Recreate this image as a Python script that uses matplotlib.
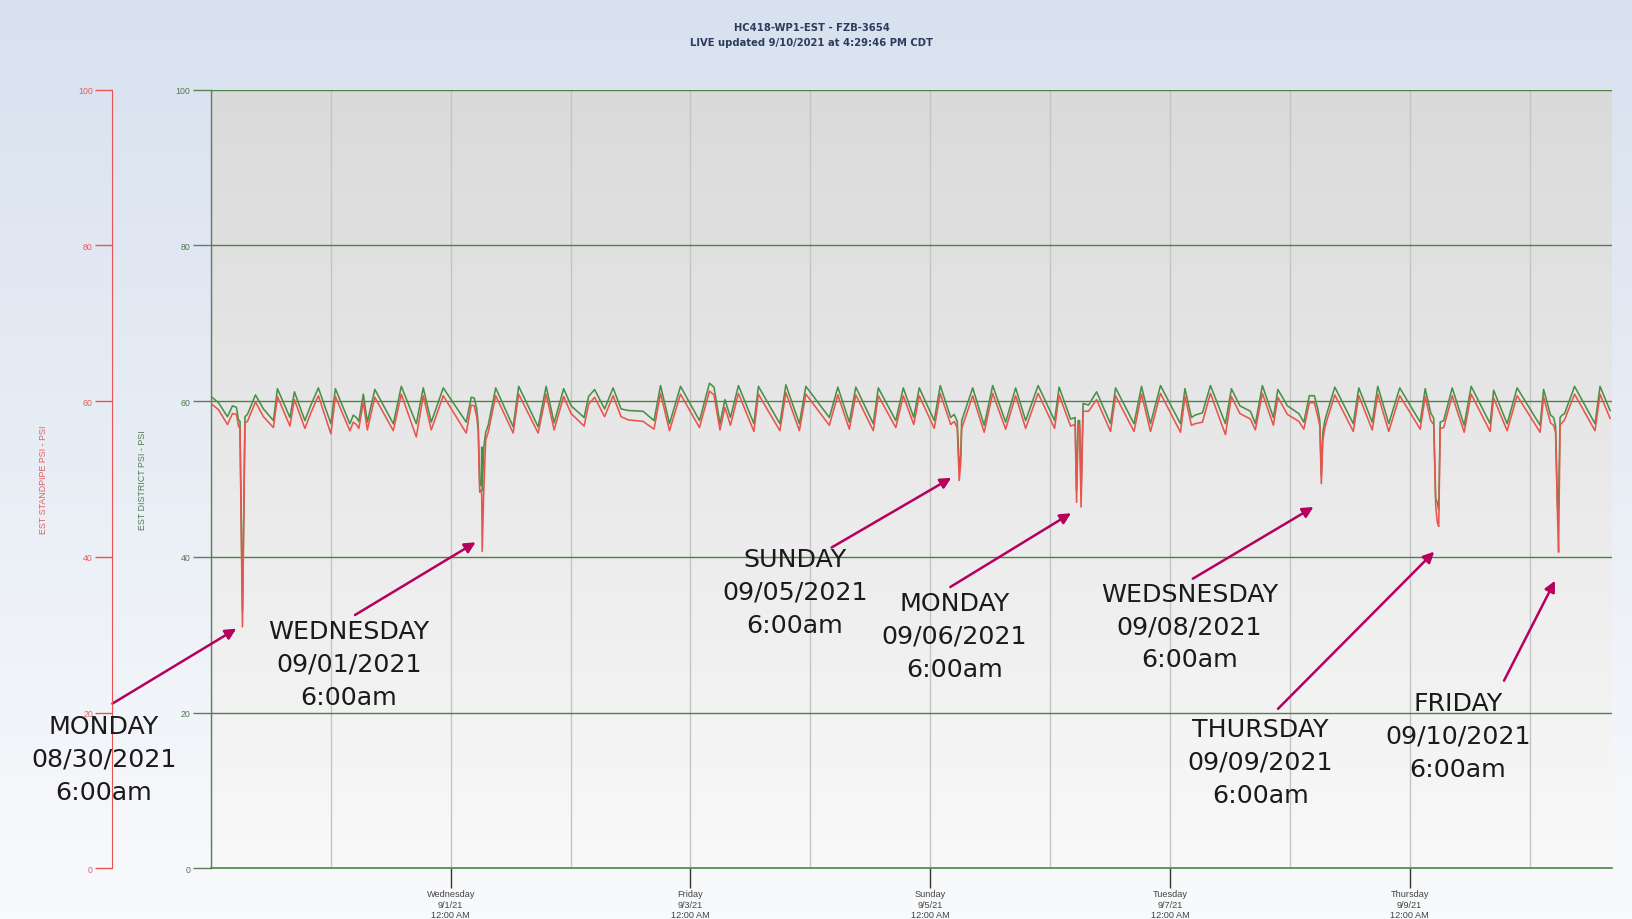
import numpy as np
import matplotlib
matplotlib.use("Agg")
import matplotlib.pyplot as plt
import matplotlib.dates as mdates
from matplotlib.ticker import FuncFormatter
import pandas as pd

# ---------------- data ----------------
title_lines = ["HC418-WP1-EST - FZB-3654", "LIVE updated 9/10/2021 at 4:29:46 PM CDT"]
start_time = "2021-08-30 00:00:00"
end_time = "2021-09-10 16:29:46"

# hours since 8/30/2021 12:00 AM
hours = [0.0, 1.5, 3.3, 4.3, 5.1, 5.5, 5.8, 6.3, 6.8, 7.3, 8.9, 10.5, 12.5, 13.3, 15.8, 16.7,
         18.8, 20.0, 21.5, 24.0, 24.9, 27.8, 28.5, 29.1, 29.6, 30.5, 31.3, 32.8, 36.5, 38.1,
         41.1, 42.5, 44.1, 46.5, 51.1, 52.1, 52.7, 53.2, 53.5, 53.8, 54.1, 54.2, 54.3, 54.6,
         55.0, 55.5, 57.0, 60.5, 61.6, 65.5, 67.1, 68.7, 70.6, 72.1, 74.7, 75.6, 76.8, 78.8,
         80.5, 82.1, 83.5, 86.5, 88.7, 90.0, 91.8, 94.0, 97.8, 99.8, 100.7, 101.9, 102.9,
         104.0, 105.6, 108.7, 109.6, 110.5, 113.9, 115.1, 117.8, 119.1, 123.8, 125.5, 127.8,
         129.1, 132.6, 133.6, 137.1, 138.6, 140.7, 141.8, 144.8, 146.0, 148.1, 148.8, 149.4,
         149.8, 150.1, 150.3, 152.5, 154.8, 156.5, 159.1, 161.1, 163.1, 165.6, 168.9, 169.8,
         172.1, 173.0, 173.3, 173.6, 173.9, 174.2, 174.6, 175.7, 177.3, 180.1, 181.1, 184.8,
         186.3, 188.1, 190.1, 194.1, 195.0, 196.3, 197.0, 198.5, 200.1, 203.1, 204.3, 206.0,
         208.1, 209.1, 210.5, 212.7, 213.6, 215.5, 217.8, 218.8, 219.9, 220.9, 221.6, 222.0,
         222.3, 222.6, 223.0, 223.3, 225.0, 228.7, 229.8, 232.5, 233.6, 235.8, 238.0, 242.1,
         243.1, 244.2, 244.8, 245.2, 245.5, 245.8, 246.1, 246.8, 248.5, 250.9, 252.3, 256.1,
         256.8, 259.5, 261.5, 266.1, 266.8, 268.2, 268.8, 269.2, 269.6, 269.8, 270.1, 270.5,
         271.0, 273.0, 277.1, 278.1, 280.1]

district_psi = [60.6, 59.8, 58.0, 59.4, 59.2, 57.6, 57.4, 33.0, 58.0, 58.3, 60.8, 59.0, 57.5, 61.6, 57.9, 61.2,
                57.5, 59.5, 61.7, 57.1, 61.6, 57.1, 58.2, 57.9, 57.4, 60.9, 57.3, 61.5, 57.1, 61.9,
                57.1, 61.7, 57.3, 61.7, 57.3, 60.5, 60.4, 59.0, 57.0, 49.1, 49.3, 54.1, 48.5, 54.0,
                56.0, 56.9, 61.7, 56.7, 61.9, 56.7, 61.9, 57.2, 61.6, 59.4, 57.9, 60.6, 61.5, 59.0,
                61.7, 59.0, 58.8, 58.7, 57.5, 62.0, 57.1, 61.9, 57.5, 62.3, 61.8, 57.1, 60.2,
                57.9, 62.0, 57.1, 61.9, 60.9, 57.1, 62.1, 57.1, 61.9, 57.9, 61.8, 57.3,
                61.8, 57.1, 61.7, 57.5, 61.7, 57.9, 61.7, 57.5, 62.0, 57.9, 58.3, 57.4,
                51.5, 53.0, 57.5, 61.7, 56.9, 62.0, 57.3, 61.7, 57.5, 62.0, 57.5, 61.8,
                57.7, 57.9, 48.5, 57.5, 57.5, 48.0, 59.7, 59.5, 61.2, 57.1, 61.7, 57.1,
                61.9, 57.1, 62.0, 57.1, 61.6, 57.9, 58.2, 58.5, 62.0, 57.1, 61.6, 59.4,
                58.7, 57.1, 62.0, 57.9, 61.5, 59.4, 58.4, 57.3, 60.7, 60.7, 59.0, 57.5,
                50.5, 56.0, 57.5, 58.2, 61.8, 57.1, 61.7, 57.3, 61.9, 57.1, 61.7, 57.3,
                61.6, 58.5, 57.8, 47.5, 47.0, 46.0, 57.3, 57.5, 61.7, 56.9, 61.9, 57.1,
                61.4, 57.1, 61.7, 56.9, 61.5, 58.2, 57.9, 56.8, 46.1, 46.5, 57.9, 58.2,
                58.4, 61.9, 57.1, 61.9, 58.8]

standpipe_psi = [59.7, 58.9, 57.0, 58.4, 58.3, 56.8, 56.5, 31.0, 57.2, 57.4, 59.9, 58.0, 56.6, 60.6, 56.8, 60.2,
                 56.5, 58.5, 60.7, 55.8, 60.6, 56.2, 57.3, 57.0, 56.5, 59.9, 56.3, 60.5, 56.2, 60.9,
                 55.4, 60.7, 56.3, 60.7, 55.9, 59.5, 59.4, 58.0, 56.2, 48.3, 48.6, 48.0, 40.7, 48.3,
                 55.0, 56.0, 60.7, 55.9, 60.9, 55.9, 60.9, 56.3, 60.6, 58.4, 56.8, 59.6, 60.5, 58.0,
                 60.7, 58.0, 57.6, 57.4, 56.4, 61.0, 56.2, 60.9, 56.6, 61.3, 60.8, 56.3, 59.2,
                 56.9, 61.0, 56.1, 60.9, 59.9, 56.2, 61.1, 56.2, 60.9, 56.9, 60.8, 56.4,
                 60.8, 56.2, 60.7, 56.6, 60.7, 57.0, 60.7, 56.5, 61.0, 57.0, 57.4, 56.6,
                 49.8, 52.0, 56.5, 60.7, 56.0, 61.0, 56.4, 60.7, 56.5, 61.0, 56.5, 60.8,
                 56.8, 57.0, 47.0, 57.0, 57.0, 46.4, 58.7, 58.7, 60.2, 56.1, 60.7, 56.1,
                 60.9, 56.1, 61.0, 56.0, 60.6, 56.9, 57.1, 57.3, 61.0, 55.7, 60.6, 58.4,
                 57.7, 56.3, 61.0, 56.9, 60.5, 58.3, 57.4, 56.4, 59.8, 59.8, 58.0, 56.8,
                 49.4, 55.0, 56.5, 57.3, 60.8, 56.1, 60.7, 56.3, 60.9, 56.1, 60.7, 56.4,
                 60.6, 57.5, 57.0, 46.5, 44.5, 43.9, 56.5, 56.6, 60.7, 56.0, 60.9, 56.1,
                 60.4, 56.2, 60.7, 56.0, 60.5, 57.2, 56.9, 56.0, 45.0, 40.6, 57.0, 57.2,
                 57.6, 60.9, 56.2, 60.9, 57.8]

y_ticks = [0, 20, 40, 60, 80, 100]
standpipe_label = "EST STANDPIPE PSI - PSI"
district_label = "EST DISTRICT PSI - PSI"

annotation_texts = [
    "MONDAY\n08/30/2021\n6:00am",
    "WEDNESDAY\n09/01/2021\n6:00am",
    "SUNDAY\n09/05/2021\n6:00am",
    "MONDAY\n09/06/2021\n6:00am",
    "WEDSNESDAY\n09/08/2021\n6:00am",
    "THURSDAY\n09/09/2021\n6:00am",
    "FRIDAY\n09/10/2021\n6:00am",
]

# ---------------- styling ----------------
W, H = 1632, 920
DPI = 100
RED = "#e8554e"
GREEN = "#4b8f47"
GRID_GREEN = "#4f8045"
AXIS_GREEN = "#5c7f5c"
ARROW = "#b5005e"

fig = plt.figure(figsize=(W / DPI, H / DPI), dpi=DPI)

# figure background gradient
bg = fig.add_axes([0, 0, 1, 1], zorder=-10)
top_c = np.array([216, 225, 239]) / 255.0
bot_c = np.array([249, 250, 252]) / 255.0
g = np.linspace(0, 1, 256)[:, None]
grad = (top_c[None, :] * (1 - g) + bot_c[None, :] * g)[:, None, :]
bg.imshow(grad, aspect="auto", extent=[0, 1, 0, 1], origin="upper")
bg.set_axis_off()

def px(x, y):
    return x / W, 1 - y / H

left, right, top, bottom = 211, 1612, 90.7, 869.3
ax = fig.add_axes([left / W, 1 - bottom / H, (right - left) / W, (bottom - top) / H])
ax.patch.set_alpha(0)

t0 = pd.Timestamp(start_time)
t1 = pd.Timestamp(end_time)
times = t0 + pd.to_timedelta(hours, unit="h")
xt = mdates.date2num(times.to_pydatetime())
x0, x1 = mdates.date2num(t0.to_pydatetime()), mdates.date2num(t1.to_pydatetime())

# plot-area gradient
ptop = np.array([218, 218, 218]) / 255.0
pbot = np.array([249, 249, 249]) / 255.0
pgrad = (ptop[None, :] * (1 - g) + pbot[None, :] * g)[:, None, :]
ax.imshow(pgrad, aspect="auto", extent=[x0, x1, 0, 100], origin="upper", zorder=0)

ax.plot(xt, district_psi, color=GREEN, lw=1.15, zorder=3)
ax.plot(xt, standpipe_psi, color=RED, lw=1.15, zorder=4)

ax.set_xlim(x0, x1)
ax.set_ylim(0, 100)

# y axis (district, green)
ax.set_yticks(y_ticks)
ax.tick_params(axis="y", which="major", length=13, width=1, color=AXIS_GREEN,
               labelcolor="#4f7a4f", labelsize=6.3, pad=2, direction="out")
for lab in ax.get_yticklabels():
    lab.set_family("Liberation Sans")
for yv in y_ticks[1:]:
    ax.axhline(yv, color=GRID_GREEN, lw=1.0, zorder=2)

# x axis
ax.xaxis.set_major_locator(mdates.DayLocator(bymonthday=[1, 3, 5, 7, 9]))
ax.xaxis.set_minor_locator(mdates.DayLocator())

def fmt(v, pos):
    d = mdates.num2date(v)
    return f"{d:%A}\n{d.month}/{d.day}/{d:%y}\n12:00 AM"

ax.xaxis.set_major_formatter(FuncFormatter(fmt))
ax.tick_params(axis="x", which="major", length=14.5, width=1, color="#333333",
               labelcolor="#444444", labelsize=6.6, pad=0.5)
ax.tick_params(axis="x", which="minor", length=0)
for lab in ax.get_xticklabels():
    lab.set_family("Liberation Sans")
    lab.set_linespacing(1.2)
ax.grid(which="both", axis="x", color="#c4c4c4", lw=1.0, zorder=1)
ax.set_axisbelow(True)

for s in ["top", "right"]:
    ax.spines[s].set_visible(False)
ax.spines["left"].set_color(AXIS_GREEN)
ax.spines["bottom"].set_color(GRID_GREEN)
ax.spines["left"].set_linewidth(1.0)
ax.spines["bottom"].set_linewidth(1.2)

# standpipe (red) axis
ax2 = ax.twinx()
ax2.set_ylim(0, 100)
ax2.yaxis.tick_left()
ax2.set_yticks(y_ticks)
ax2.spines["left"].set_position(("axes", (112.3 - left) / (right - left)))
for s in ["top", "right", "bottom"]:
    ax2.spines[s].set_visible(False)
ax2.spines["left"].set_color(RED)
ax2.tick_params(axis="y", length=12, width=1, color=RED, labelcolor="#e06060",
                labelsize=6.3, pad=2)
for lab in ax2.get_yticklabels():
    lab.set_family("Liberation Sans")
ax2.patch.set_visible(False)

# axis titles
fig.text(*px(43.3, 480), standpipe_label, rotation=90, ha="center", va="center",
         color="#e06060", fontsize=6.4, family="Liberation Sans")
fig.text(*px(142.3, 480), district_label, rotation=90, ha="center", va="center",
         color="#4f7a4f", fontsize=6.4, family="Liberation Sans")

# title
fig.text(*px(812, 28.3), title_lines[0], ha="center", va="center", color="#2d3b5c",
         fontsize=7.2, fontweight="bold", family="DejaVu Sans")
fig.text(*px(812, 43.3), title_lines[1], ha="center", va="center", color="#2d3b5c",
         fontsize=7.2, fontweight="bold", family="DejaVu Sans")

# annotations
text_centers = [(104, 760), (348.7, 665), (795, 593), (954.4, 637), (1189.6, 627.6),
                (1260.4, 763), (1458, 737)]
arrows = [((112.4, 704.6), (236.3, 629.7)),
          ((355, 616), (475.6, 543.3)),
          ((831.6, 548.5), (951.3, 478.8)),
          ((950.3, 588), (1071, 514.2)),
          ((1192.8, 579.7), (1313.5, 508)),
          ((1278, 709.8), (1434.2, 552.7)),
          ((1504, 681.7), (1555, 581.8))]

for txt, (cx, cy), (tail, tip) in zip(annotation_texts, text_centers, arrows):
    fig.text(*px(cx, cy), txt, ha="center", va="center", fontsize=18.2,
             color="#1a1a1a", family="DejaVu Sans", linespacing=1.46, zorder=20)
    ax.annotate("", xy=(tip[0], H - tip[1]), xytext=(tail[0], H - tail[1]),
                xycoords="figure pixels", textcoords="figure pixels",
                arrowprops=dict(arrowstyle="-|>", color=ARROW, lw=1.8,
                                mutation_scale=16, shrinkA=0, shrinkB=0),
                annotation_clip=False, zorder=20)

fig.savefig("out.png", dpi=DPI)
